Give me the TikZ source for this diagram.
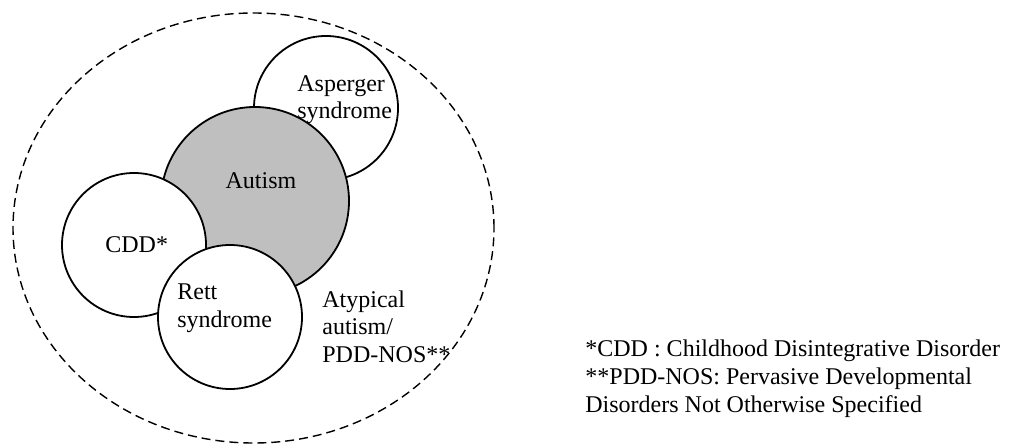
\documentclass[tikz,border=0pt]{standalone}
\usepackage{fontspec}
\setmainfont{Liberation Serif}
\usetikzlibrary{shapes.geometric}
\definecolor{autgray}{gray}{0.75}

\tikzset{disc/.style={circle,draw,line width=0.9pt,fill=white,inner sep=0pt},
  lbl/.style={inner sep=0pt,align=left,font=\fontsize{12pt}{13.75pt}\selectfont}}

\begin{document}
\begin{tikzpicture}[x=0.5pt,y=0.5pt]
    \useasboundingbox (0,0) rectangle (1012,445);
    \node[ellipse,draw,line width=0.7pt,dash pattern=on 4.5pt off 2.5pt,
      minimum width=240.5pt,minimum height=215pt,inner sep=0pt] (pdd) at (253.5,217) {};
    \node[disc,minimum size=72pt] (asp) at (326,337) {};
    \node[disc,minimum size=94pt,fill=autgray] (aut) at (255,244) {};
    \node[disc,minimum size=72pt] (cdd) at (134,200) {};
    \node[disc,minimum size=72pt] (rett) at (230,128) {};
    % multi-line labels sit on the baseline of their last line
    \node[lbl,anchor=base west] (lasp) at (297,326) {Asperger\\syndrome};
    \node[lbl,anchor=base] (laut) at (261,256) {Autism};
    \node[lbl,anchor=base west] (lcdd) at (105,192) {CDD*};
    \node[lbl,anchor=base west] (lrett) at (177,118) {Rett\\syndrome};
    \node[lbl,anchor=base west] (lpdd) at (322,83) {Atypical\\autism/\\PDD-NOS**};
    \node[lbl,anchor=base west] (notes) at (585,33)
      {*CDD : Childhood Disintegrative Disorder\\**PDD-NOS: Pervasive Developmental\\Disorders Not Otherwise Specified};
  \end{tikzpicture}
\end{document}
